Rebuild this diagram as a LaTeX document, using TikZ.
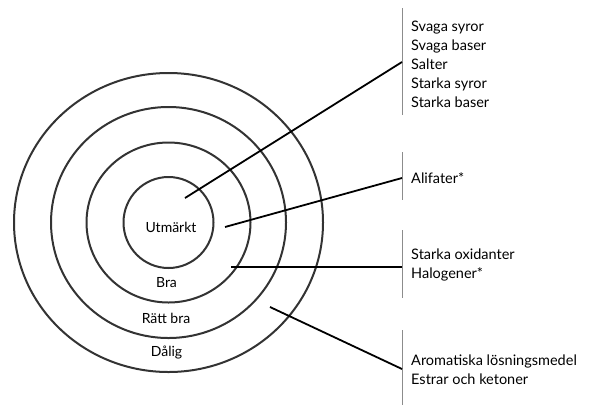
\documentclass[tikz,border=0pt]{standalone}
\usepackage{fontspec}
\setmainfont{Lato}
\usepackage{tikz}

\begin{document}
\begin{tikzpicture}[x=1pt,y=-1pt,
    ring/.style={draw=black!80, line width=2pt},
    pointer/.style={draw=black, line width=1.8pt},
    bar/.style={draw=black!45, line width=0.9pt},
    zone/.style={font=\fontsize{14}{19}\selectfont, inner sep=0pt},
    group/.style={font=\fontsize{14.5}{19}\selectfont, align=left, anchor=west, inner sep=0pt}]
    \useasboundingbox (0,0) rectangle (593,405);

    % rings
    \coordinate (c) at (168.5,222.5);
    \draw[ring] (c) ellipse [x radius=154.5, y radius=149.5];
    \draw[ring] (c) ellipse [x radius=117.5, y radius=115.5];
    \draw[ring] (c) ellipse [x radius=82, y radius=80];
    \draw[ring] (c) ellipse [x radius=45, y radius=45.5];

    \node[zone] (utm)  at (171,227) {Utmärkt};
    \node[zone] (bra)  at (166.5,283) {Bra};
    \node[zone] (ratt) at (166,318) {Rätt bra};
    \node[zone] (dal)  at (166.5,353) {Dålig};

    % groups on the right
    \draw[bar] (402,8) coordinate (b1t) -- (402,115) coordinate (b1b);
    \draw[bar] (402,152) coordinate (b2t) -- (402,200) coordinate (b2b);
    \draw[bar] (402,230) coordinate (b3t) -- (402,298) coordinate (b3b);
    \draw[bar] (402,330) coordinate (b4t) -- (402,405) coordinate (b4b);

    \node[group] (g1) at (411,64) {Svaga syror\\Svaga baser\\Salter\\Starka syror\\Starka baser};
    \node[group] (g2) at (411,178) {Alifater*};
    \node[group] (g3) at (411,265) {Starka oxidanter\\Halogener*};
    \node[group] (g4) at (411,370) {Aromatiska lösningsmedel\\Estrar och ketoner};

    % pointers
    \coordinate (p1) at (185,198);
    \coordinate (p2) at (225,227);
    \coordinate (p3) at (231,267);
    \coordinate (p4) at (270,307);
    \coordinate (e1) at (402,62);
    \coordinate (e2) at (402,178);
    \coordinate (e3) at (402,267);
    \coordinate (e4) at (402,369);
    \draw[pointer] (p1) -- (e1);
    \draw[pointer] (p2) -- (e2);
    \draw[pointer] (p3) -- (e3);
    \draw[pointer] (p4) -- (e4);
\end{tikzpicture}
\end{document}
